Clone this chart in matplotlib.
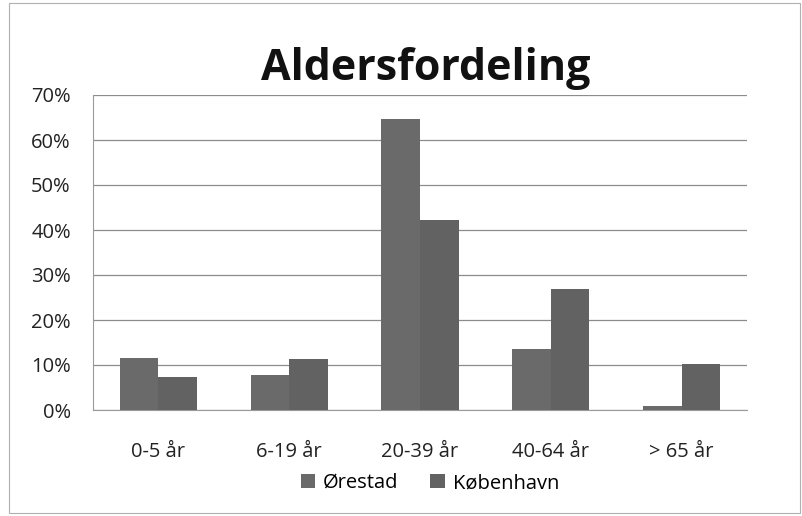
import numpy as np
import matplotlib.pyplot as plt
from matplotlib.ticker import PercentFormatter

categories = ['0-5 år', '6-19 år', '20-39 år', '40-64 år', '> 65 år']
orestad = [11.5, 7.8, 64.6, 13.5, 1.0]
kobenhavn = [7.4, 11.3, 42.2, 26.8, 10.2]

plt.rcParams['font.family'] = ['Open Sans', 'DejaVu Sans']

fig = plt.figure(figsize=(8.03, 5.16), dpi=100)
ax = fig.add_axes([93 / 803, 1 - 410 / 516, (747 - 93) / 803, (410 - 95) / 516])

x = np.arange(len(categories))
w = 0.295
ax.bar(x - w / 2, orestad, w, color='#6a6a6a', label='Ørestad', zorder=3)
ax.bar(x + w / 2, kobenhavn, w, color='#626262', label='København', zorder=3)

ax.set_xlim(-0.5, len(categories) - 0.5)
ax.set_ylim(0, 70)
ax.set_yticks(range(0, 71, 10))
ax.yaxis.set_major_formatter(PercentFormatter(decimals=0))
ax.grid(axis='y', color='#8c8c8c', linewidth=0.9, zorder=0)
ax.set_xticks(x)
ax.set_xticklabels(categories)
ax.tick_params(length=0, labelsize=14.5, colors='#222222')
ax.tick_params(axis='x', pad=23)
ax.tick_params(axis='y', pad=16)
for s in ['top', 'right']:
    ax.spines[s].set_visible(False)
ax.spines['left'].set_color('#9a9a9a')
ax.spines['bottom'].set_color('#9a9a9a')

fig.text(0.530, 0.868, 'Aldersfordeling', ha='center', va='center',
         fontsize=31, fontweight='bold', color='#111111')

ax.legend(loc='center', bbox_to_anchor=(0.515, -0.232), ncol=2,
          frameon=False, fontsize=14.5, handlelength=0.7, handleheight=0.7,
          handletextpad=0.4, columnspacing=1.6, borderpad=0)

# outer border of the chart area
fig.patches.append(plt.Rectangle((9 / 803, 0.005), 0.985, 0.99, transform=fig.transFigure,
                                 fill=False, edgecolor='#b0b0b0', linewidth=0.8))

fig.savefig('out.png', dpi=100)
